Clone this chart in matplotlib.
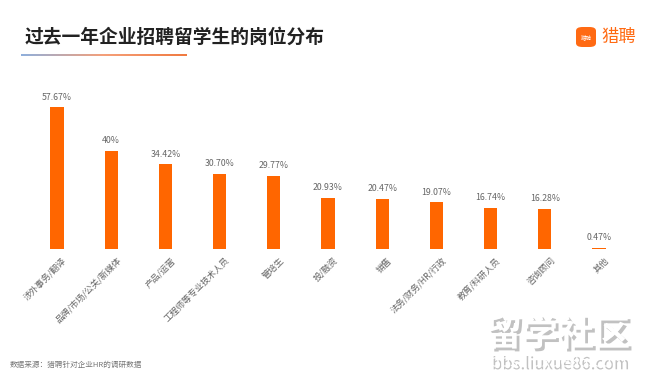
import matplotlib.pyplot as plt
import matplotlib.patheffects as pe
import numpy as np
from matplotlib.patches import FancyBboxPatch
from matplotlib.colors import LinearSegmentedColormap

plt.rcParams['font.family'] = ['Noto Sans CJK SC', 'DejaVu Sans']

# 岗位分布数据
categories = ['涉外事务/翻译', '品牌/市场/公关/新媒体', '产品/运营', '工程师等专业技术人员',
              '管培生', '投/融资', '销售', '法务/财务/HR/行政', '教育/科研人员', '咨询顾问', '其他']
values = [57.67, 40, 34.42, 30.70, 29.77, 20.93, 20.47, 19.07, 16.74, 16.28, 0.47]
value_labels = ['57.67%', '40%', '34.42%', '30.70%', '29.77%', '20.93%', '20.47%',
                '19.07%', '16.74%', '16.28%', '0.47%']

W, H = 651, 383
fig = plt.figure(figsize=(W / 100, H / 100), dpi=100)
fig.patch.set_facecolor('white')

# axes placed in pixel terms
left, right = 29.9, 29.9 + 596.2
base, top = 249, 77
ax = fig.add_axes([left / W, 1 - base / H, (right - left) / W, (base - top) / H])

x = np.arange(len(categories))
ax.bar(x, values, width=0.24, color='#FF6600')
ax.set_xlim(-0.5, len(categories) - 0.5)
ax.set_ylim(0, 70)
ax.axis('off')

for xi, v, lab in zip(x, values, value_labels):
    ax.annotate(lab, (xi, v), xytext=(0, 4), textcoords='offset points',
                ha='center', va='bottom', fontsize=6.3, color='#666666')

for xi, cat in zip(x, categories):
    ax.annotate(cat, (xi, 0), xytext=(4, -5), textcoords='offset points',
                ha='right', va='top', rotation=45, rotation_mode='anchor',
                fontsize=6.3, color='#666666')

# title
fig.text(25 / W, 1 - 37 / H, '过去一年企业招聘留学生的岗位分布', fontsize=13.5,
         fontweight='bold', color='#222222', ha='left', va='center')

# gradient underline
grad_ax = fig.add_axes([21 / W, 1 - 56 / H, 166 / W, 2 / H])
grad = np.linspace(0, 1, 256).reshape(1, -1)
cmap = LinearSegmentedColormap.from_list('ul', ['#8fb0dd', '#f5a07a', '#f07a40'])
grad_ax.imshow(grad, aspect='auto', cmap=cmap)
grad_ax.axis('off')

# logo
logo = FancyBboxPatch((576 / W, 1 - 47 / H), 20 / W, 20 / H,
                      boxstyle='round,pad=0,rounding_size=0.01',
                      transform=fig.transFigure, facecolor='#FF6A13', edgecolor='none')
fig.patches.append(logo)
fig.text(586 / W, 1 - 37 / H, '猎聘', fontsize=4, color='white', ha='center', va='center')
fig.text(601 / W, 1 - 37 / H, '猎聘', fontsize=12.5, color='#FF6A13', ha='left', va='center')

# source note
fig.text(10 / W, 1 - 365 / H, '数据来源：猎聘针对企业HR的调研数据', fontsize=5.5,
         color='#777777', ha='left', va='center')

# watermark
shadow = [pe.withSimplePatchShadow(offset=(2, -2), shadow_rgbFace='#999999', alpha=0.6)]
fig.text(558 / W, 1 - 335 / H, '留学社区', fontsize=26, fontweight='bold', color='white',
         ha='center', va='center', path_effects=shadow)
fig.text(558 / W, 1 - 362 / H, 'bbs.liuxue86.com', fontsize=12, color='white',
         ha='center', va='center', path_effects=shadow)

fig.savefig('out.png', dpi=100)
